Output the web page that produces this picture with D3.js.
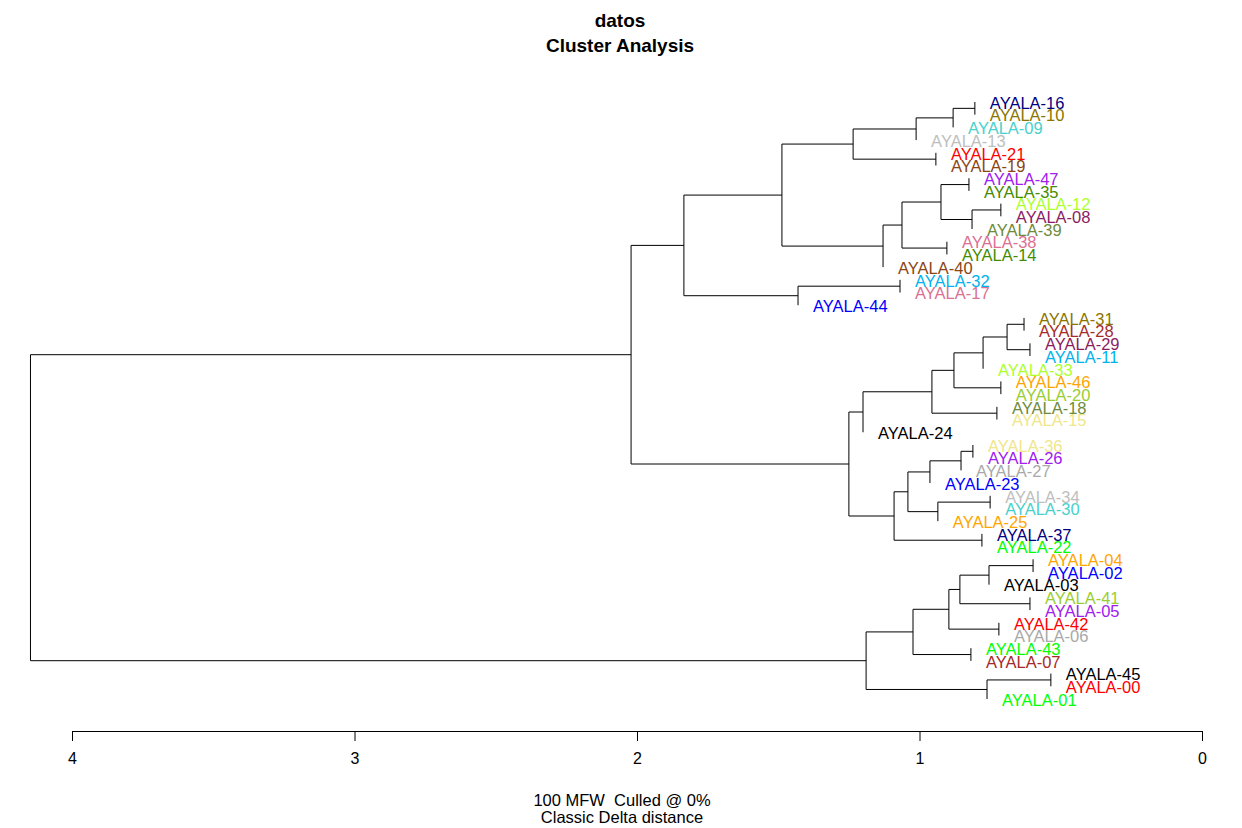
<!DOCTYPE html>
<html>
<head>
<meta charset="utf-8">
<script src="https://cdn.jsdelivr.net/npm/d3@7"></script>
<style>
  html, body { margin: 0; padding: 0; background: #fff; }
  svg { display: block; font-family: "Liberation Sans", Arial, sans-serif; }
</style>
</head>
<body>
<svg id="chart" width="1242" height="828"></svg>
<script>
// Tip labels in plotted order (top to bottom)
const tips = [
  "AYALA-16","AYALA-10","AYALA-09","AYALA-13","AYALA-21","AYALA-19","AYALA-47","AYALA-35",
  "AYALA-12","AYALA-08","AYALA-39","AYALA-38","AYALA-14","AYALA-40","AYALA-32","AYALA-17",
  "AYALA-44","AYALA-31","AYALA-28","AYALA-29","AYALA-11","AYALA-33","AYALA-46","AYALA-20",
  "AYALA-18","AYALA-15","AYALA-24","AYALA-36","AYALA-26","AYALA-27","AYALA-23","AYALA-34",
  "AYALA-30","AYALA-25","AYALA-37","AYALA-22","AYALA-04","AYALA-02","AYALA-03","AYALA-41",
  "AYALA-05","AYALA-42","AYALA-06","AYALA-43","AYALA-07","AYALA-45","AYALA-00","AYALA-01"
];
// Tip label colours (same order as tips)
const tipColors = [
  "#000080","#8B7500","#48D1CC","#BEBEBE","#FF0000","#8B4513","#A020F0","#458B00",
  "#ADFF2F","#8B1C62","#6E8B3D","#DB7093","#458B00","#8B4513","#00B2EE","#DB7093",
  "#0000FF","#8B7500","#A52A2A","#8B1C62","#00B2EE","#ADFF2F","#FFA500","#9ACD32",
  "#6E8B3D","#F0E68C","#000000","#F0E68C","#A020F0","#A9A9A9","#0000FF","#BEBEBE",
  "#48D1CC","#FFA500","#000080","#00FF00","#FFA500","#0000FF","#000000","#9ACD32",
  "#A020F0","#FF0000","#A9A9A9","#00FF00","#A52A2A","#000000","#FF0000","#00FF00"
];
// Merges: [left, right, height]; a string is a tip, a number is an earlier merge index
const merges = [
  ["AYALA-16","AYALA-10",0.804], [0,"AYALA-09",0.881], [1,"AYALA-13",1.012],
  ["AYALA-21","AYALA-19",0.942], [2,3,1.235],
  ["AYALA-47","AYALA-35",0.825], ["AYALA-12","AYALA-08",0.712], [6,"AYALA-39",0.814],
  [5,7,0.924], ["AYALA-38","AYALA-14",0.903], [8,9,1.062], [10,"AYALA-40",1.129],
  [4,11,1.487], ["AYALA-32","AYALA-17",1.069], [13,"AYALA-44",1.430], [12,14,1.834],
  ["AYALA-31","AYALA-28",0.630], ["AYALA-29","AYALA-11",0.609], [16,17,0.690],
  [18,"AYALA-33",0.775], ["AYALA-46","AYALA-20",0.712], [19,20,0.878],
  ["AYALA-18","AYALA-15",0.726], [21,22,0.956], [23,"AYALA-24",1.200],
  ["AYALA-36","AYALA-26",0.811], [25,"AYALA-27",0.853], [26,"AYALA-23",0.963],
  ["AYALA-34","AYALA-30",0.750], [28,"AYALA-25",0.935], [27,29,1.041],
  ["AYALA-37","AYALA-22",0.779], [30,31,1.090], [24,32,1.250], [15,33,2.021],
  ["AYALA-04","AYALA-02",0.598], [35,"AYALA-03",0.754], ["AYALA-41","AYALA-05",0.609],
  [36,37,0.857], ["AYALA-42","AYALA-06",0.719], [38,39,0.896],
  ["AYALA-43","AYALA-07",0.818], [40,41,1.023], ["AYALA-45","AYALA-00",0.535],
  [43,"AYALA-01",0.761], [42,44,1.189], [34,45,4.147]
];
const axisTicks = [0, 1, 2, 3, 4];
const titleLines = ["datos", "Cluster Analysis"];
const subLines = ["100 MFW  Culled @ 0%", "Classic Delta distance"];

// ---- build hierarchy ----
function nodeOf(ref) {
  if (typeof ref === "string") return { name: ref, leaf: true };
  const m = merges[ref];
  return { name: "n" + ref, height: m[2], children: [nodeOf(m[0]), nodeOf(m[1])] };
}
const rootData = nodeOf(merges.length - 1);
const root = d3.hierarchy(rootData);

const svg = d3.select("#chart");
const x = d3.scaleLinear().domain([0, 4]).range([1202, 72]);
const y = d3.scalePoint().domain(tips).range([102, 699]);
const colorOf = d3.scaleOrdinal().domain(tips).range(tipColors);

// positions: leaves at parent's height (zero-length tip edges), node y = mean of children
root.eachAfter(n => {
  if (!n.children) { n.py = y(n.data.name); }
  else { n.py = d3.mean(n.children, c => c.py); n.px = x(n.data.height); }
});
root.each(n => { if (!n.children) n.px = n.parent.px; });

const g = svg.append("g").attr("fill", "none").attr("stroke", "#000").attr("stroke-width", 1);
root.descendants().filter(n => n.children).forEach(n => {
  const ys = n.children.map(c => c.py);
  g.append("line")
    .attr("x1", n.px).attr("x2", n.px)
    .attr("y1", d3.min(ys)).attr("y2", d3.max(ys));
  n.children.forEach(c => {
    if (c.px !== n.px) {
      g.append("line")
        .attr("x1", n.px).attr("x2", c.px)
        .attr("y1", c.py).attr("y2", c.py);
    }
  });
});

// tip labels
svg.append("g").selectAll("text")
  .data(root.leaves())
  .join("text")
  .attr("x", d => d.px + 15)
  .attr("y", d => d.py + 1)
  .attr("dy", "0.35em")
  .attr("font-size", 16.5)
  .attr("fill", d => colorOf(d.data.name))
  .text(d => d.data.name);

// axis
const axis = d3.axisBottom(x).tickValues(axisTicks).tickFormat(d3.format("d"))
  .tickSize(10).tickPadding(12);
const ag = svg.append("g").attr("transform", "translate(0,731)").call(axis);
ag.selectAll("text").attr("font-size", 16).attr("font-family", "Liberation Sans, Arial, sans-serif").attr("fill", "#000");
ag.selectAll("line, path").attr("stroke", "#000");

// titles
svg.append("g").selectAll("text")
  .data(titleLines).join("text")
  .attr("x", 620).attr("y", (d, i) => 20 + i * 25)
  .attr("dy", "0.35em")
  .attr("text-anchor", "middle")
  .attr("font-weight", "bold").attr("font-size", 19)
  .text(d => d);

svg.append("g").selectAll("text")
  .data(subLines).join("text")
  .attr("x", 622).attr("y", (d, i) => 800 + i * 17)
  .attr("dy", "0.35em")
  .attr("text-anchor", "middle")
  .attr("font-size", 16.5)
  .style("white-space", "pre")
  .text(d => d);
</script>
</body>
</html>
